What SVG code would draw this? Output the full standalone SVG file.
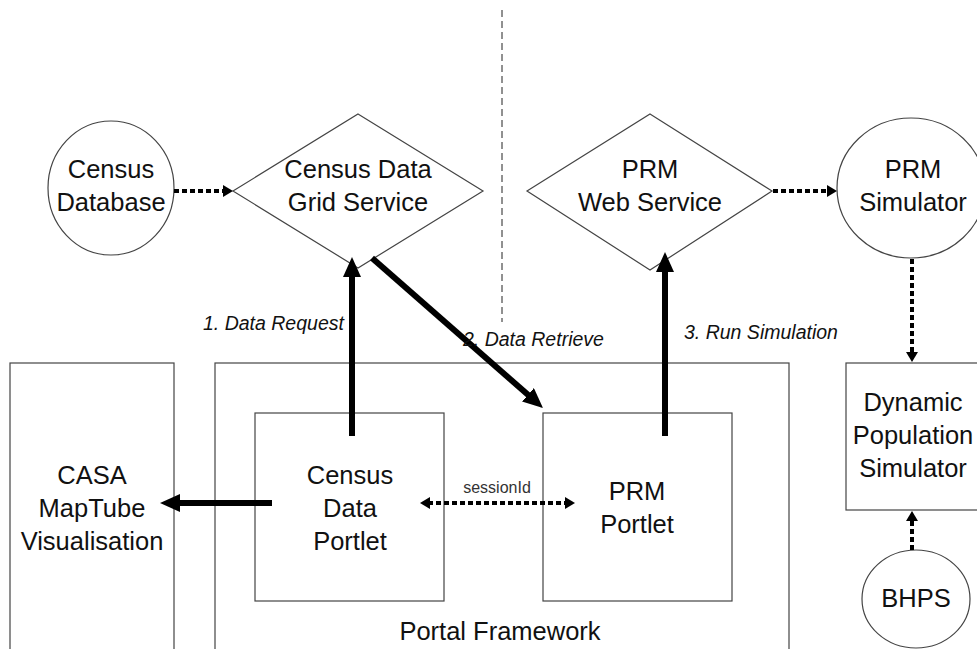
<svg xmlns="http://www.w3.org/2000/svg" width="977" height="649" viewBox="0 0 977 649">
<defs>
<style>
.shape{fill:#fff;stroke:#444;stroke-width:1.2}
.t{font-family:"Liberation Sans",Arial,sans-serif;font-size:25.5px;fill:#111;text-anchor:middle}
.lbl{font-family:"Liberation Sans",Arial,sans-serif;font-size:19.5px;font-style:italic;fill:#111}
.small{font-family:"Liberation Sans",Arial,sans-serif;font-size:16px;fill:#333;text-anchor:middle}
.thick{stroke:#000;stroke-width:6;fill:none;marker-end:url(#big)}
.dot{stroke:#000;stroke-width:4;stroke-dasharray:5 3;fill:none;marker-end:url(#sm)}
</style>
<marker id="big" markerUnits="userSpaceOnUse" markerWidth="20" markerHeight="18" refX="5" refY="9" orient="auto"><path d="M0,0 L20,9 L0,18 z" fill="#000"/></marker>
<marker id="sm" markerUnits="userSpaceOnUse" markerWidth="10" markerHeight="12" refX="2" refY="6" orient="auto-start-reverse"><path d="M0,0 L10,6 L0,12 z" fill="#000"/></marker>
</defs>
<rect width="977" height="649" fill="#fff"/>
<line x1="502" y1="10" x2="502" y2="322" stroke="#222" stroke-width="1" stroke-dasharray="7 4"/>

<g id="casa"><rect class="shape" x="10" y="363" width="164" height="300"/>
<text class="t" x="92" y="484">CASA</text><text class="t" x="92" y="517">MapTube</text><text class="t" x="92" y="550">Visualisation</text></g>

<g id="portal"><rect class="shape" x="215" y="363" width="574" height="300"/>
<text class="t" x="500" y="640">Portal Framework</text></g>

<g id="censusPortlet"><rect class="shape" x="255" y="413" width="189" height="188"/>
<text class="t" x="350" y="484">Census</text><text class="t" x="350" y="517">Data</text><text class="t" x="350" y="550">Portlet</text></g>

<g id="prmPortlet"><rect class="shape" x="543" y="413" width="189" height="188"/>
<text class="t" x="637" y="500">PRM</text><text class="t" x="637" y="533">Portlet</text></g>

<g id="censusDb"><ellipse class="shape" cx="111" cy="188" rx="63" ry="67"/>
<text class="t" x="111" y="178">Census</text><text class="t" x="111" y="211">Database</text></g>

<g id="gridService"><polygon class="shape" points="358,114 483,191 358,268 233,191"/>
<text class="t" x="358" y="178">Census Data</text><text class="t" x="358" y="211">Grid Service</text></g>

<g id="webService"><polygon class="shape" points="650,114 772,191 650,270 527,191"/>
<text class="t" x="650" y="178">PRM</text><text class="t" x="650" y="211">Web Service</text></g>

<g id="prmSim"><ellipse class="shape" cx="911" cy="188" rx="74" ry="70"/>
<text class="t" x="913" y="178">PRM</text><text class="t" x="913" y="211">Simulator</text></g>

<g id="dynamic"><rect class="shape" x="846" y="363" width="150" height="147"/>
<text class="t" x="913" y="411">Dynamic</text><text class="t" x="913" y="444">Population</text><text class="t" x="913" y="477">Simulator</text></g>

<g id="bhps"><ellipse class="shape" cx="916" cy="599" rx="54" ry="49"/>
<text class="t" x="916" y="607">BHPS</text></g>

<g id="connectors">
<line class="dot" x1="174" y1="191" x2="225" y2="191"/>
<line class="dot" x1="773" y1="191" x2="829" y2="191"/>
<line class="dot" x1="912" y1="259" x2="912" y2="354"/>
<line class="dot" x1="912" y1="550" x2="912" y2="519"/>
<line class="dot" x1="428" y1="503" x2="567" y2="503" marker-start="url(#sm)"/>
<line class="thick" x1="352" y1="436" x2="352" y2="272"/>
<line class="thick" x1="665" y1="436" x2="665" y2="267"/>
<line class="thick" x1="372" y1="258" x2="531.7" y2="398.1"/>
<line class="thick" x1="272" y1="503" x2="175" y2="503"/>
<text class="lbl" x="203" y="330">1. Data Request</text>
<text class="lbl" x="463" y="346">2. Data Retrieve</text>
<text class="lbl" x="684" y="339">3. Run Simulation</text>
<text class="small" x="497" y="493">sessionId</text>
</g>
</svg>
